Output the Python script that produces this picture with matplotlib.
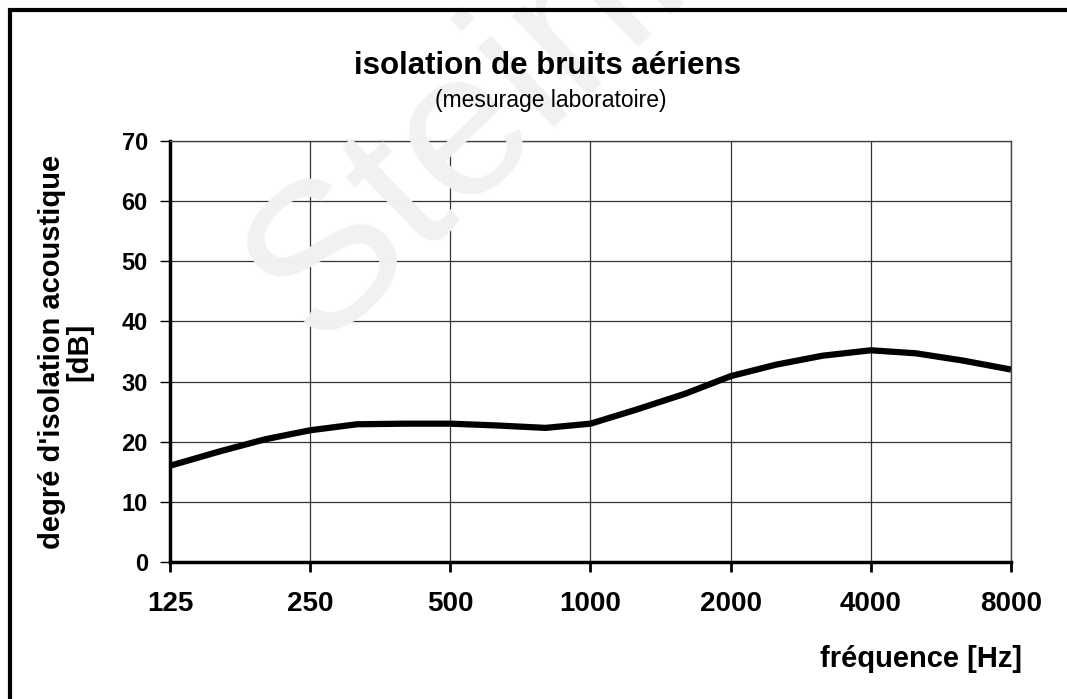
import matplotlib
matplotlib.use("Agg")
import matplotlib.pyplot as plt
from matplotlib.patches import Rectangle

plt.rcParams["font.family"] = ["Liberation Sans", "DejaVu Sans"]

# ---- data (1/3 octave bands) ----
freq = [125, 160, 200, 250, 315, 400, 500, 630, 800, 1000,
        1250, 1600, 2000, 2500, 3150, 4000, 5000, 6300, 8000]
isolation_db = [16.0, 18.4, 20.4, 21.9, 22.9, 23.0, 23.0, 22.7, 22.3, 23.0,
                25.3, 28.0, 30.9, 32.8, 34.3, 35.2, 34.7, 33.5, 32.0]

xticks = [125, 250, 500, 1000, 2000, 4000, 8000]
yticks = [0, 10, 20, 30, 40, 50, 60, 70]

W, H = 1067, 699
fig = plt.figure(figsize=(W / 100, H / 100), dpi=100)
ax = fig.add_axes([170 / W, 137 / H, 841 / W, 421 / H])

# faint watermark
fig.text(318 / W, 1 - 348 / H, "Steinbach", fontsize=150, color="#f1f1f1",
         rotation=44, rotation_mode="anchor", ha="left", va="baseline",
         zorder=0)
ax.patch.set_alpha(0)

ax.plot(freq, isolation_db, color="black", linewidth=4.5,
        solid_capstyle="butt", zorder=3)

ax.set_xscale("log")
ax.set_xlim(125, 8000)
ax.set_ylim(0, 70)
ax.set_xticks(xticks)
ax.set_xticklabels([str(t) for t in xticks])
ax.minorticks_off()
ax.set_yticks(yticks)

ax.grid(True, color="#333333", linewidth=0.9)
ax.set_axisbelow(True)

for s in ["top", "right"]:
    ax.spines[s].set_linewidth(1.0)
    ax.spines[s].set_color("#444444")
for s in ["left", "bottom"]:
    ax.spines[s].set_linewidth(2.5)

ax.tick_params(axis="x", direction="out", length=7, width=2, pad=14,
               labelsize=20)
ax.tick_params(axis="y", direction="out", length=7, width=1, pad=9,
               labelsize=17)
for lab in ax.get_xticklabels() + ax.get_yticklabels():
    lab.set_fontweight("bold")

ax.set_ylabel("degré d'isolation acoustique\n[dB]", fontsize=21,
              fontweight="bold", linespacing=1.0, labelpad=20)

fig.text(548 / W, 1 - 66 / H, "isolation de bruits aériens",
         fontsize=22.5, fontweight="bold", ha="center", va="center")
fig.text(551 / W, 1 - 101 / H, "(mesurage laboratoire)",
         fontsize=16.5, ha="center", va="center")
fig.text(1022 / W, 1 - 659 / H, "fréquence [Hz]",
         fontsize=21, fontweight="bold", ha="right", va="center")

# outer frame (only top and left edges fall inside the image)
fig.patches.append(Rectangle((9.5 / W, -0.1), 1.2, 1.1 - 10.5 / H,
                             transform=fig.transFigure, fill=False,
                             edgecolor="black", linewidth=3))

fig.savefig("out.png", dpi=100)
